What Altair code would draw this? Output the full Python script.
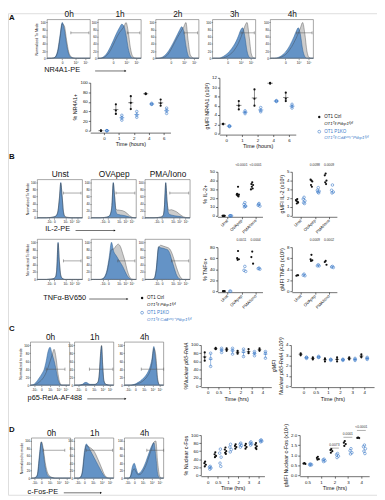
import altair as alt
import pandas as pd
import numpy as np

W, H = 377, 492
OFF = 8
FONT = "Liberation Sans"
BLUE = "#3d7cc9"
BLUE_FILL = "#5b8ec6"
BLUE_EDGE = "#2b5c90"
GRAY_FILL = "#cccccc"
GRAY_EDGE = "#3a3a3a"
INK = "#111111"

# ---------------- histogram data (x in % of display width, y in % of mode) -------------
GRID = [0, 5, 10, 15, 20, 25, 30, 35, 40, 45, 50, 55, 60, 65, 70, 75, 80, 85, 90, 95, 100]
FINE = [0, 10, 20, 30, 35, 40, 43, 46, 49, 52, 55, 58, 61, 65, 70, 75, 80, 85, 90, 95, 100]
C1_X = [0, 10, 20, 25, 30, 35, 40, 50, 55, 60, 63, 66, 69, 72, 75, 80, 90, 100]

A_TITLES = ["0h", "1h", "2h", "3h", "4h"]
A0_KO = [0, 0, 0, 1, 6, 25, 65, 100, 80, 40, 12, 3, 1, 0, 0, 0, 0, 0, 0, 0, 0]
A0_CTRL = [0, 0, 0, 1, 4, 20, 58, 96, 90, 52, 18, 5, 1, 0, 0, 0, 0, 0, 0, 0, 0]
A1_KO = [0, 0, 2, 6, 13, 23, 35, 48, 62, 75, 86, 95, 90, 65, 28, 7, 1, 0, 0, 0, 0]
A1_CTRL = [0, 0, 1, 3, 8, 15, 25, 37, 50, 62, 72, 80, 88, 100, 75, 30, 6, 1, 0, 0, 0]
A2_KO = [0, 0, 1, 3, 7, 13, 21, 31, 42, 54, 66, 78, 88, 75, 35, 8, 1, 0, 0, 0, 0]
A2_CTRL = [0, 0, 0, 1, 3, 7, 14, 24, 35, 47, 58, 68, 78, 88, 100, 50, 10, 2, 0, 0, 0]
A3_KO = [0, 0, 0, 0, 2, 5, 9, 14, 20, 28, 37, 48, 62, 78, 85, 60, 20, 3, 0, 0, 0]
A3_CTRL = [0, 0, 0, 0, 0, 1, 3, 6, 10, 15, 22, 31, 42, 56, 72, 90, 100, 60, 12, 1, 0]
A4_KO = [0, 0, 0, 1, 3, 6, 11, 17, 25, 35, 47, 60, 75, 85, 65, 25, 5, 0, 0, 0, 0]
A4_CTRL = [0, 0, 0, 0, 1, 3, 6, 10, 16, 24, 33, 44, 56, 70, 85, 100, 70, 20, 2, 0, 0]
A_GATE_X = [55, 68, 66, 66, 61]
A_GATE_END = [97, 97, 97, 97, 97]
A_GATE_Y = 71
A_TICKS = [35, 66, 89]
A_TICKLAB = ["0", "10\u2074", "10\u2075"]

B_TITLES = ["Unst", "OVApep", "PMA/Iono"]
B_IL2_UNST_KO = [0, 0, 0, 1, 2, 4, 8, 20, 55, 100, 60, 15, 3, 1, 0, 0, 0, 0, 0, 0, 0]
B_IL2_UNST_CTRL = [0, 0, 0, 1, 2, 4, 8, 22, 58, 98, 62, 18, 5, 2, 1, 0, 0, 0, 0, 0, 0]
B_IL2_OVA_KO = [0, 0, 0, 1, 2, 5, 12, 35, 100, 60, 18, 10, 9, 8, 7, 6, 4, 2, 1, 0, 0]
B_IL2_OVA_CTRL = [0, 0, 0, 1, 2, 5, 12, 35, 98, 62, 25, 22, 22, 21, 20, 17, 12, 6, 2, 0, 0]
B_IL2_PMA_KO = [0, 0, 0, 1, 2, 6, 30, 100, 45, 14, 9, 8, 7, 6, 5, 4, 3, 1, 0, 0, 0]
B_IL2_PMA_CTRL = [0, 0, 0, 1, 2, 6, 30, 98, 48, 22, 22, 23, 22, 20, 17, 12, 7, 3, 1, 0, 0]
B_TNF_UNST_KO = [0, 0, 0, 1, 2, 6, 25, 100, 45, 10, 3, 1, 0, 0, 0, 0, 0, 0, 0, 0, 0]
B_TNF_UNST_CTRL = [0, 0, 0, 1, 2, 6, 27, 97, 48, 12, 4, 1, 0, 0, 0, 0, 0, 0, 0, 0, 0]
B_TNF_OVA_KO = [0, 0, 0, 0, 0, 2, 8, 25, 60, 100, 75, 65, 55, 45, 35, 22, 10, 3, 0, 0, 0]
B_TNF_OVA_CTRL = [0, 0, 0, 0, 0, 1, 6, 20, 50, 80, 82, 90, 95, 88, 70, 50, 25, 8, 1, 0, 0]
B_TNF_PMA_KO = [0, 0, 0, 0, 2, 30, 88, 85, 84, 82, 80, 70, 50, 30, 12, 3, 0, 0, 0, 0, 0]
B_TNF_PMA_CTRL = [0, 0, 0, 0, 2, 25, 85, 92, 90, 88, 86, 82, 70, 52, 32, 15, 4, 0, 0, 0, 0]
B_IL2_GATE_X = [58, 55, 55]
B_IL2_GATE_Y = 70
B_TNF_GATE_X = [58, 59, 59]
B_TNF_GATE_Y = 50
B_GATE_END = [97, 97, 97]
B_TICKS = [26, 38, 62, 76, 90]
B_TICKLAB = ["-10\u00b3", "0", "10\u00b3", "10\u2074", "10\u2075"]

C_TITLES = ["0h", "1h", "4h"]
C0_KO = [0, 1, 3, 8, 15, 22, 30, 40, 60, 85, 95, 78, 62, 40, 15, 3, 0, 0, 0, 0, 0]
C0_CTRL = [0, 0, 1, 3, 6, 10, 15, 22, 32, 45, 60, 75, 90, 70, 30, 6, 0, 0, 0, 0, 0]
C1_KO = [0, 0, 2, 6, 7, 4, 2, 2, 3, 8, 25, 70, 98, 45, 10, 2, 0, 0]
C1_CTRL = [0, 0, 1, 2, 2, 1, 1, 1, 3, 9, 28, 75, 100, 50, 12, 2, 0, 0]
C4_KO = [0, 0, 0, 0, 1, 2, 4, 7, 10, 14, 19, 25, 33, 45, 65, 97, 60, 10, 0, 0, 0]
C4_CTRL = [0, 0, 0, 0, 0, 1, 2, 4, 6, 9, 13, 18, 25, 35, 55, 92, 75, 15, 0, 0, 0]
C_GATE_X = [40, 38, 43]
C_GATE_END = [88, 98, 100]
C_GATE_Y = 40
C_TICKS = [9, 28, 50, 72, 90]
C_TICKLAB = ["-10\u00b3", "0", "10\u00b3", "10\u2074", "10\u2075"]

D_TITLES = ["0h", "1h", "4h"]
D0_KO = [0, 0, 2, 10, 60, 97, 70, 30, 10, 4, 2, 1, 0, 0, 0, 0, 0, 0, 0, 0, 0]
D0_CTRL = [0, 0, 1, 8, 50, 98, 80, 42, 18, 7, 3, 1, 0, 0, 0, 0, 0, 0, 0, 0, 0]
D1_KO = [0, 0, 0, 3, 20, 70, 92, 85, 75, 65, 55, 45, 35, 25, 15, 7, 2, 0, 0, 0, 0]
D1_CTRL = [0, 0, 0, 2, 15, 60, 88, 85, 82, 78, 72, 62, 50, 38, 25, 12, 4, 1, 0, 0, 0]
D4_KO = [0, 0, 0, 5, 30, 40, 25, 12, 15, 22, 32, 45, 60, 75, 88, 95, 60, 10, 0, 0, 0]
D4_CTRL = [0, 0, 0, 3, 18, 25, 16, 9, 10, 15, 24, 35, 50, 66, 82, 97, 100, 40, 5, 0, 0]
D_GATE_X = [30, 30, 57]
D_GATE_END = [85, 97, 100]
D_GATE_Y = 75
D_TICKS = [8, 25, 47, 70, 90]
D_TICKLAB = ["-10\u00b3", "0", "10\u00b3", "10\u2074", "10\u2075"]

# ---------------- dot-plot data -------------
A_TIME = ["0", "1", "2", "4", "6"]
A_PCT_CTRL = [[0, 0, 0], [55, 42, 35], [72, 58, 45], [76, 77, 78], [65, 57, 52]]
A_PCT_KO = [[0, 0, 0], [32, 27, 22], [40, 33, 28], [57, 55, 55], [47, 42, 36]]
A_MFI_CTRL = [[2.1, 2.0, 2.1], [7.0, 6.0, 5.2], [9.5, 7.5, 6.0], [10.8, 10.9, 10.8], [8.8, 7.5, 7.0]]
A_MFI_KO = [[1.6, 1.7, 1.5], [4.9, 4.6, 4.3], [5.6, 5.0, 4.7], [7.1, 7.0, 6.9], [6.3, 5.9, 5.5]]

B_COND = ["Unst", "OVApep", "PMA/Iono"]
B_IL2_PCT_CTRL = [[0, 0, 0, 0, 0, 0], [33, 25, 24, 23, 22, 24], [38, 36, 35, 33, 31, 30]]
B_IL2_PCT_KO = [[0, 0, 0, 0], [15, 13, 11, 10, 11], [14, 12, 11, 13]]
B_IL2_MFI_CTRL = [[1.9, 1.7, 1.5, 1.4, 1.6, 1.8], [4.0, 4.1, 3.9, 3.5, 3.3], [4.8, 4.6, 4.0, 3.8, 3.6]]
B_IL2_MFI_KO = [[2.1, 1.9, 1.7, 1.5, 1.4], [3.2, 2.9, 2.8, 2.7, 2.6], [3.5, 2.9, 2.7, 2.6]]
B_TNF_PCT_CTRL = [[0, 0, 0], [73, 60, 58, 57], [72, 62, 50]]
B_TNF_PCT_KO = [[0, 0], [45, 38, 36], [42, 41, 40]]
B_TNF_MFI_CTRL = [[2.9, 2.8, 2.9], [6.6, 5.8, 5.6, 5.5], [5.5, 5.3, 4.8]]
B_TNF_MFI_KO = [[3.1, 2.9, 2.8], [4.8, 4.6, 4.6], [4.5, 4.4, 4.3]]
B_IL2_PCT_P = ["", "<0.0001", "<0.0001"]
B_IL2_MFI_P = ["", "0.0098", "0.0009"]
B_TNF_PCT_P = ["", "0.0011", "0.0004"]
B_TNF_MFI_P = ["", "0.0009", "0.0002"]

C_TIME = ["0", "0.5", "1", "2", "3", "4"]
C_PCT_CTRL = [[82, 70, 62], [93, 91, 90], [92, 89, 86], [86, 82, 79], [90, 83, 80], [92, 88, 86]]
C_PCT_KO = [[80, 67, 48], [92, 88, 82], [92, 87, 78], [90, 84, 72], [84, 80, 74], [84, 80, 68]]
C_MFI_CTRL = [[3.2, 3.1, 3.0], [2.8, 2.7, 2.6], [2.7, 2.6, 2.4], [2.8, 2.6, 2.4], [2.8, 2.7, 2.6], [3.1, 2.9, 2.8]]
C_MFI_KO = [[2.8, 2.8, 2.7], [2.9, 2.8, 2.8], [2.6, 2.6, 2.5], [2.6, 2.6, 2.5], [2.7, 2.6, 2.5], [2.8, 2.7, 2.6]]

D_TIME = ["0", "0.5", "1", "2", "3", "4"]
D_PCT_CTRL = [[34, 30, 26, 22], [57, 52, 48, 45], [69, 64, 60, 56, 53], [77, 73, 70, 66], [78, 74, 70, 66], [80, 76, 72, 68, 65]]
D_PCT_KO = [[22, 20, 18, 15], [65, 55, 45, 30, 22], [77, 70, 64, 58], [80, 77, 74, 70], [83, 80, 78, 75], [88, 86, 85, 83]]
D_MFI_TIME = ["0.5", "1", "2", "3", "4"]
D_MFI_CTRL = [[0.60, 0.58, 0.56], [0.92, 0.86, 0.80, 0.78], [1.30, 1.25, 1.20, 1.12], [1.70, 1.62, 1.55, 1.46], [1.88, 1.86, 1.85]]
D_MFI_KO = [[0.56, 0.54, 0.52, 0.50], [0.80, 0.76, 0.72, 0.68], [1.08, 1.02, 0.95, 0.88], [1.32, 1.22, 1.12, 1.06], [1.50, 1.42, 1.32, 1.20, 1.08]]
D_MFI_P = ["", "", "0.0073", "0.0001", "<0.0001"]
D_MFI_P_Y = [0, 0, 1.42, 1.96, 2.30]

# ---------------- helpers -------------
def px(v):
    return v - OFF


def ax(orient, pos, **kw):
    if orient == "bottom":
        off = px(pos) - H
    else:
        off = -px(pos)
    base = dict(orient=orient, offset=off, grid=False, domainColor=INK, domainWidth=0.6,
                tickColor=INK, tickWidth=0.6, tickSize=2, labelFontSize=4.5, labelFont=FONT,
                labelColor=INK, labelPadding=1, labelFlush=False, labelOverlap=False,
                titleFont=FONT, titleFontSize=5.5, titleFontWeight="normal", titleColor=INK,
                titlePadding=2)
    base.update(kw)
    return alt.Axis(**base)


def lab_expr(vals, labs):
    s = "''"
    for v, l in reversed(list(zip(vals, labs))):
        s = f"(abs(datum.value - {v}) < 0.001 ? '{l}' : {s})"
    return s


ONE = pd.DataFrame({"k": [0]})
layers = []


def txt(s, x, y, size, color=INK, weight="normal", style="normal", align="left"):
    layers.append(alt.Chart(ONE).mark_text(text=s, fontSize=size, font=FONT, color=color,
                                           fontWeight=weight, fontStyle=style, align=align,
                                           baseline="middle")
                  .encode(x=alt.value(px(x)), y=alt.value(px(y))))


def arrow(x0, x1, y):
    layers.append(alt.Chart(ONE).mark_rule(color=INK, strokeWidth=0.6)
                  .encode(x=alt.value(px(x0)), x2=alt.value(px(x1)), y=alt.value(px(y))))
    layers.append(alt.Chart(ONE).mark_point(shape="triangle-right", filled=True, size=5, color=INK, opacity=1)
                  .encode(x=alt.value(px(x1)), y=alt.value(px(y))))


def hist(x0, x1, ytop, ybot, xs, ko, ctrl, gx, gend, gy, title, ticks, ticklab, ytitle=None):
    xsc = alt.Scale(domain=[0, 100], range=[px(x0), px(x1)], nice=False, zero=False)
    ysc = alt.Scale(domain=[0, 108], range=[px(ybot), px(ytop)], nice=False, zero=False)
    df = pd.DataFrame({"x": xs, "ko": ko, "ctrl": ctrl})
    X = alt.X("x:Q", scale=xsc, axis=None)
    layers.append(alt.Chart(df).mark_area(interpolate="monotone", fill=GRAY_FILL, opacity=1)
                  .encode(x=X, y=alt.Y("ctrl:Q", scale=ysc, axis=None)))
    layers.append(alt.Chart(df).mark_area(interpolate="monotone", fill=BLUE_FILL, fillOpacity=0.92,
                                          stroke=BLUE_EDGE, strokeWidth=0.5)
                  .encode(x=X, y=alt.Y("ko:Q", scale=ysc, axis=None)))
    layers.append(alt.Chart(df).mark_line(interpolate="monotone", color=GRAY_EDGE, strokeWidth=0.45, opacity=0.85)
                  .encode(x=X, y=alt.Y("ctrl:Q", scale=ysc, axis=None)))
    g = pd.DataFrame({"x": [gx], "x2": [gend], "y": [gy]})
    layers.append(alt.Chart(g).mark_rule(color="#555555", strokeWidth=0.5)
                  .encode(x=alt.X("x:Q", scale=xsc,
                                  axis=ax("top", ytop, title=title, labels=False, ticks=False, domain=False,
                                          titleFontSize=8.5, titlePadding=1)),
                          x2="x2:Q", y=alt.Y("y:Q", scale=ysc, axis=None)))
    caps = pd.DataFrame({"x": [gx, gend], "y": [gy - 4, gy - 4], "y2": [gy + 4, gy + 4]})
    layers.append(alt.Chart(caps).mark_rule(color="#555555", strokeWidth=0.5)
                  .encode(x=alt.X("x:Q", scale=xsc, axis=None), y=alt.Y("y:Q", scale=ysc, axis=None), y2="y2:Q"))
    box = pd.DataFrame({"x": [0], "x2": [100], "y": [0], "y2": [108]})
    yax = dict(values=[0, 20, 40, 60, 80, 100], domain=False, labelFontSize=3, tickSize=1.5,
               labelPadding=0.5, tickWidth=0.4)
    if ytitle:
        yax.update(title=ytitle, titleFontSize=3.6, titlePadding=1.5)
    else:
        yax.update(title=None)
    layers.append(alt.Chart(box).mark_rect(fillOpacity=0, stroke="#6a6a6a", strokeWidth=0.6)
                  .encode(x=alt.X("x:Q", scale=xsc,
                                  axis=ax("bottom", ybot, values=ticks, labelExpr=lab_expr(ticks, ticklab),
                                          domain=False, labelFontSize=3.2, tickSize=1.5, labelPadding=0.5,
                                          tickWidth=0.4, title=None)),
                          x2="x2:Q",
                          y=alt.Y("y:Q", scale=ysc, axis=ax("left", x0, **yax)), y2="y2:Q"))


JIT = [0.0, -1.0, 1.0, -0.5, 0.5, -1.5, 1.5]


def scatter(cats, ctrl, ko, c0, cN, ax0, ax1, ybot, ytop, ymax, ystep, xaxis_y, ytitle, xtitle,
            d, jit=0.0, stats=None, angle=0, pvals=None, p_y=None, p_line=False, yfmt=None, ystyle="normal"):
    n = len(cats)
    s = (cN - c0) / (n - 1)
    xsc = alt.Scale(domain=[(ax0 - c0) / s, (ax1 - c0) / s], range=[px(ax0), px(ax1)], nice=False, zero=False)
    ysc = alt.Scale(domain=[0, ymax], range=[px(ybot), px(ytop)], nice=False, zero=False)
    rows = []
    for grp, data, o in (("ctrl", ctrl, -d), ("ko", ko, d)):
        for i, vals in enumerate(data):
            for j, v in enumerate(vals):
                rows.append(dict(g=grp, i=i, x=i + o + JIT[j % len(JIT)] * jit, v=v))
    df = pd.DataFrame(rows)
    xvals = list(range(n))
    xa = dict(values=xvals, labelExpr=lab_expr(xvals, cats), title=xtitle, titleFontSize=5.5)
    if angle:
        xa.update(labelAngle=angle, labelAlign="right", labelBaseline="middle", labelFontSize=4.2)
    yv = [round(v, 4) for v in np.arange(0, ymax + 1e-9, ystep)]
    ya = dict(values=yv, title=ytitle, titleFontStyle=ystyle)
    if yfmt:
        ya.update(format=yfmt)
    if stats:
        srows = []
        for grp, data, o in (("ctrl", ctrl, -d), ("ko", ko, d)):
            for i, vals in enumerate(data):
                a = np.array(vals, dtype=float)
                m = a.mean()
                if stats == "sd":
                    lo, hi = m - a.std(ddof=1), m + a.std(ddof=1)
                else:
                    lo, hi = a.min(), a.max()
                srows.append(dict(g=grp, x=i + o, xa=i + o - 0.17, xb=i + o + 0.17, m=m, lo=lo, hi=hi))
        sdf = pd.DataFrame(srows)
        for grp, col in (("ctrl", INK), ("ko", BLUE)):
            sub = sdf[sdf.g == grp]
            layers.append(alt.Chart(sub).mark_rule(color=col, strokeWidth=0.5)
                          .encode(x=alt.X("x:Q", scale=xsc, axis=None), y=alt.Y("lo:Q", scale=ysc, axis=None), y2="hi:Q"))
            layers.append(alt.Chart(sub).mark_rule(color=col, strokeWidth=0.5)
                          .encode(x=alt.X("xa:Q", scale=xsc, axis=None), x2="xb:Q", y=alt.Y("m:Q", scale=ysc, axis=None)))
    layers.append(alt.Chart(df[df.g == "ctrl"]).mark_point(filled=True, size=5, color=INK, opacity=1)
                  .encode(x=alt.X("x:Q", scale=xsc, axis=ax("bottom", xaxis_y, **xa)),
                          y=alt.Y("v:Q", scale=ysc, axis=ax("left", ax0, **ya))))
    layers.append(alt.Chart(df[df.g == "ko"]).mark_point(filled=False, size=7, color=BLUE, strokeWidth=0.6, opacity=1)
                  .encode(x=alt.X("x:Q", scale=xsc, axis=None), y=alt.Y("v:Q", scale=ysc, axis=None)))
    if pvals:
        py = p_y if p_y is not None else [ymax * 1.12] * n
        pdf = pd.DataFrame({"x": xvals, "y": py, "t": pvals})
        pdf = pdf[pdf.t != ""]
        layers.append(alt.Chart(pdf).mark_text(fontSize=3.4, font=FONT, color="#333333", baseline="bottom")
                      .encode(x=alt.X("x:Q", scale=xsc, axis=None), y=alt.Y("y:Q", scale=ysc, axis=None), text="t:N"))
        if p_line:
            ldf = pdf.assign(xa=pdf.x - 0.33, xb=pdf.x + 0.33, yl=pdf.y - ymax * 0.035)
            layers.append(alt.Chart(ldf).mark_rule(color="#333333", strokeWidth=0.4)
                          .encode(x=alt.X("xa:Q", scale=xsc, axis=None), x2="xb:Q", y=alt.Y("yl:Q", scale=ysc, axis=None)))


SUP_CTRL = "OT1\u1d40\u1d4d Ptbp1\u1da0\u02e1/\u1da0\u02e1"
SUP_KO = "OT1\u1d40\u1d4d Cd4\u1d9c\u02b3\u1d49/\u207a Ptbp1\u1da0\u02e1/\u1da0\u02e1"


def legend(x, y):
    layers.append(alt.Chart(ONE).mark_point(filled=True, size=6, color=INK, opacity=1)
                  .encode(x=alt.value(px(x)), y=alt.value(px(y))))
    txt("OT1 Ctrl", x + 5, y, 4.6)
    txt(SUP_CTRL, x + 5, y + 7, 4.5, style="italic")
    layers.append(alt.Chart(ONE).mark_point(filled=False, size=8, color=BLUE, strokeWidth=0.6, opacity=1)
                  .encode(x=alt.value(px(x)), y=alt.value(px(y + 15))))
    txt("OT1 P1KO", x + 5, y + 15, 4.6, color=BLUE)
    txt(SUP_KO, x + 5, y + 22, 4.5, color=BLUE, style="italic")


# ---------------- panel A -------------
A_X0 = [48, 100, 159, 217, 276]
for k, (ko, ct) in enumerate([(A0_KO, A0_CTRL), (A1_KO, A1_CTRL), (A2_KO, A2_CTRL), (A3_KO, A3_CTRL), (A4_KO, A4_CTRL)]):
    hist(A_X0[k], A_X0[k] + 44, 14.5, 54, GRID, ko, ct, A_GATE_X[k], A_GATE_END[k], A_GATE_Y, A_TITLES[k],
         A_TICKS, A_TICKLAB, "Normalized To Mode" if k == 0 else None)
txt("A", 9, 13, 8, weight="bold")
txt("NR4A1-PE", 45, 66, 7.5)
arrow(97, 128, 67)
scatter(A_TIME, A_PCT_CTRL, A_PCT_KO, 106, 167, 92, 174, 128, 79, 100, 20, 130, "% NR4A1+", "Time (hours)", 0.2, stats="sd")
scatter(A_TIME, A_MFI_CTRL, A_MFI_KO, 231, 295, 224, 302, 131, 74, 12, 2, 132, "gMFI NR4A1 (x10\u00b3)", "Time (hours)", 0.2, stats="sd")
legend(326, 114)

# ---------------- panel B -------------
B_X0 = [38, 93, 148]
for k, (ko, ct) in enumerate([(B_IL2_UNST_KO, B_IL2_UNST_CTRL), (B_IL2_OVA_KO, B_IL2_OVA_CTRL), (B_IL2_PMA_KO, B_IL2_PMA_CTRL)]):
    hist(B_X0[k], B_X0[k] + 46, 178, 217, FINE, ko, ct, B_IL2_GATE_X[k], B_GATE_END[k], B_IL2_GATE_Y, B_TITLES[k],
         B_TICKS, B_TICKLAB, "Normalized To Mode" if k == 0 else None)
B_TNF_GRIDS = [FINE, GRID, GRID]
for k, (ko, ct) in enumerate([(B_TNF_UNST_KO, B_TNF_UNST_CTRL), (B_TNF_OVA_KO, B_TNF_OVA_CTRL), (B_TNF_PMA_KO, B_TNF_PMA_CTRL)]):
    hist(B_X0[k], B_X0[k] + 46, 239, 280, B_TNF_GRIDS[k], ko, ct, B_TNF_GATE_X[k], B_GATE_END[k], B_TNF_GATE_Y, "",
         B_TICKS, B_TICKLAB, "Normalized To Mode" if k == 0 else None)
txt("B", 9, 155, 8, weight="bold")
txt("IL-2-PE", 46, 229, 7.5)
arrow(77, 117, 230)
txt("TNF\u03b1-BV650", 44, 299, 7.5)
arrow(91, 130, 300)
legend(145, 299)
scatter(B_COND, B_IL2_PCT_CTRL, B_IL2_PCT_KO, 232, 261, 222, 268, 215, 170, 50, 10, 216, "% IL-2+", None, 0.24,
        jit=0.06, angle=315, pvals=B_IL2_PCT_P)
scatter(B_COND, B_IL2_MFI_CTRL, B_IL2_MFI_KO, 307, 336, 298, 344, 215, 170, 5, 1, 216, "gMFI IL-2 (x10\u00b3)", None, 0.24,
        jit=0.06, angle=315, pvals=B_IL2_MFI_P)
scatter(B_COND, B_TNF_PCT_CTRL, B_TNF_PCT_KO, 232, 261, 222, 268, 292, 247, 80, 20, 293, "% TNF\u03b1+", None, 0.24,
        jit=0.06, angle=315, pvals=B_TNF_PCT_P)
scatter(B_COND, B_TNF_MFI_CTRL, B_TNF_MFI_KO, 307, 336, 298, 344, 292, 247, 8, 2, 293, "gMFI TNF\u03b1 (x10\u00b3)", None, 0.24,
        jit=0.06, angle=315, pvals=B_TNF_MFI_P)

# ---------------- panel C -------------
C_X0 = [31, 76, 127]
C_GRIDS = [GRID, C1_X, GRID]
for k, (ko, ct) in enumerate([(C0_KO, C0_CTRL), (C1_KO, C1_CTRL), (C4_KO, C4_CTRL)]):
    hist(C_X0[k], C_X0[k] + 40, 344, 388, C_GRIDS[k], ko, ct, C_GATE_X[k], C_GATE_END[k], C_GATE_Y, C_TITLES[k],
         C_TICKS, C_TICKLAB, "Normalized to mode" if k == 0 else None)
txt("C", 9, 331, 8, weight="bold")
txt("p65-RelA-AF488", 28, 401, 7.5)
arrow(89, 128, 402)
scatter(C_TIME, C_PCT_CTRL, C_PCT_KO, 212, 268, 205, 277, 389, 347, 100, 20, 390, "%Nuclear p65-RelA", "Time (hrs)", 0.27,
        stats="range", ystyle="italic")
scatter(C_TIME, C_MFI_CTRL, C_MFI_KO, 310, 372, 297, 382, 389, 347, 4, 1, 390, ["gMFI", "Nuclear p65-RelA (x10\u00b3)"],
        "Time (hrs)", 0.24, stats="range", ystyle="italic")

# ---------------- panel D -------------
D_X0 = [32, 76, 127]
for k, (ko, ct) in enumerate([(D0_KO, D0_CTRL), (D1_KO, D1_CTRL), (D4_KO, D4_CTRL)]):
    hist(D_X0[k], D_X0[k] + 40, 442, 483, GRID, ko, ct, D_GATE_X[k], D_GATE_END[k], D_GATE_Y, D_TITLES[k],
         D_TICKS, D_TICKLAB, "Normalized to mode" if k == 0 else None)
txt("D", 9, 434, 8, weight="bold")
txt("c-Fos-PE", 28, 497, 7.5)
arrow(65, 103, 498)
scatter(D_TIME, D_PCT_CTRL, D_PCT_KO, 212, 264, 205, 270, 480, 439, 100, 20, 481, "% Nuclear c-Fos", "Time (hrs)", 0.25, jit=0.07)
scatter(D_MFI_TIME, D_MFI_CTRL, D_MFI_KO, 314, 369, 306, 377, 480, 439, 2.0, 0.5, 481, "gMFI Nuclear c-Fos (x10\u2074)",
        "Time (hrs)", 0.23, jit=0.07, pvals=D_MFI_P, p_y=D_MFI_P_Y, p_line=True, yfmt=".1f")

chart = (alt.layer(*layers)
         .resolve_scale(x="independent", y="independent")
         .properties(width=W, height=H, padding=0, autosize=alt.AutoSizeParams(type="none"))
         .configure_view(stroke=None)
         .configure(font=FONT))
chart.save("out.html", embed_options={"renderer": "svg", "actions": False})
